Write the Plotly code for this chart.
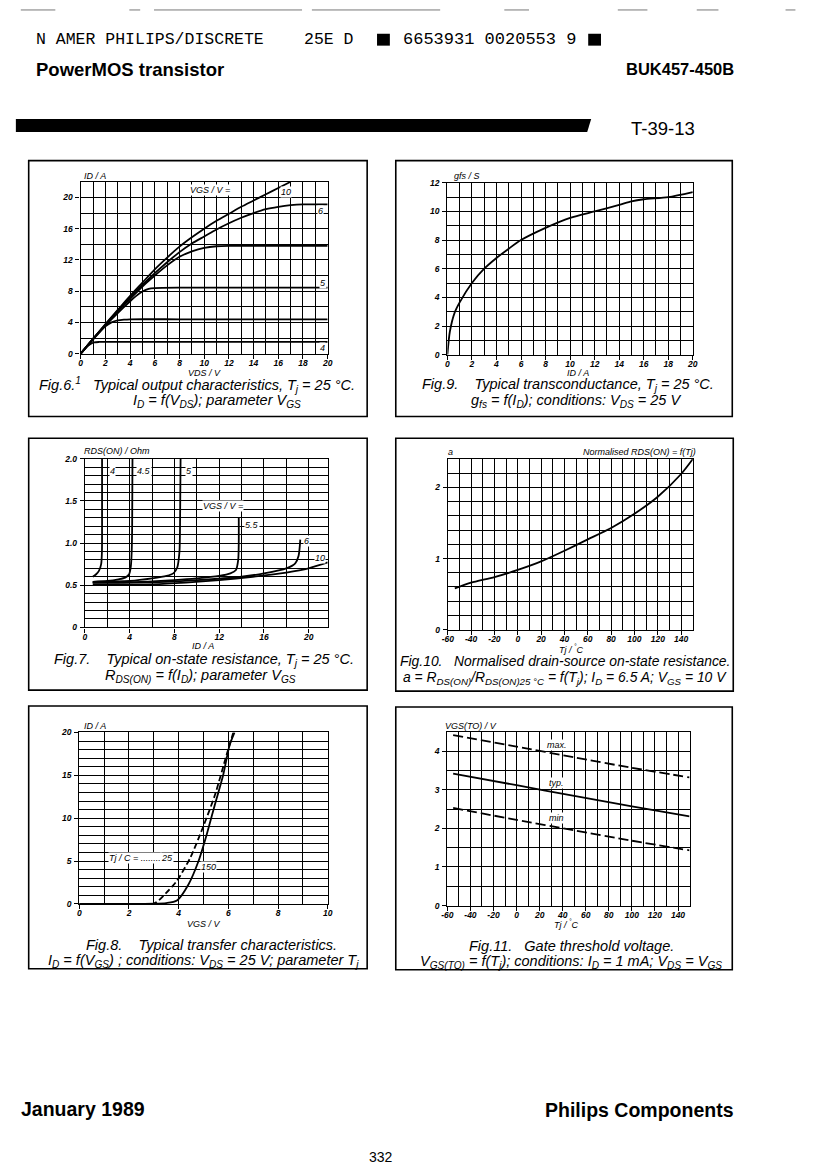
import plotly.graph_objects as go

W, H = 832, 1169
FONT = "Liberation Sans"

# ---------------- data ----------------
# Fig.6 output characteristics: ID (A) vs VDS (V), one curve per VGS
F6_VGS10_VDS = [0, 1, 2, 3, 4, 5, 6, 7, 8, 9, 10, 11, 12, 13, 14, 15, 16, 17]
F6_VGS10_ID = [0, 1.9, 3.8, 5.6, 7.4, 9.1, 10.8, 12.3, 13.7, 14.9, 16.0, 17.0, 17.9, 18.8, 19.6, 20.4, 21.2, 22.0]
F6_VGS6_VDS = [0, 1, 2, 3, 4, 5, 6, 7, 8, 9, 10, 11, 12, 13, 14, 15, 16, 17, 18, 20]
F6_VGS6_ID = [0, 1.9, 3.7, 5.5, 7.2, 8.8, 10.3, 11.7, 13.0, 14.1, 15.0, 15.9, 16.7, 17.4, 18.0, 18.5, 18.8, 19.0, 19.1, 19.1]
F6_VGS55_VDS = [0, 1, 2, 3, 4, 5, 6, 7, 8, 9, 10, 11, 12, 16, 20]
F6_VGS55_ID = [0, 1.9, 3.7, 5.4, 7.0, 8.6, 10.0, 11.3, 12.4, 13.1, 13.55, 13.75, 13.8, 13.8, 13.8]
F6_VGS5_VDS = [0, 1, 2, 3, 4, 4.5, 5, 5.5, 6, 8, 12, 16, 20]
F6_VGS5_ID = [0, 1.9, 3.6, 5.2, 6.7, 7.4, 7.95, 8.3, 8.4, 8.45, 8.45, 8.45, 8.45]
F6_VGS45_VDS = [0, 1, 1.5, 2, 2.5, 3, 3.5, 4, 8, 12, 16, 20]
F6_VGS45_ID = [0, 1.8, 2.7, 3.5, 4.0, 4.25, 4.35, 4.4, 4.4, 4.4, 4.4, 4.4]
F6_VGS4_VDS = [0, 0.5, 0.8, 1.1, 1.5, 2, 6, 12, 20]
F6_VGS4_ID = [0, 0.9, 1.25, 1.45, 1.5, 1.5, 1.5, 1.5, 1.5]

# Fig.9 transconductance: gfs (S) vs ID (A)
F9_ID = [0, 0.2, 0.6, 1, 2, 3, 4, 5, 6, 8, 10, 12, 14, 15, 16, 18, 20]
F9_GFS = [0, 1.6, 2.95, 3.65, 5.0, 6.0, 6.75, 7.4, 8.0, 8.85, 9.55, 10.0, 10.45, 10.7, 10.85, 11.0, 11.35]

# Fig.7 on-state resistance: RDS(ON) (Ohm) vs ID (A), one curve per VGS
F7_VGS4_ID = [0.7, 1.0, 1.25, 1.45, 1.52, 1.53, 1.53]
F7_VGS4_R = [0.60, 0.63, 0.67, 0.75, 0.90, 1.20, 2.0]
F7_VGS45_ID = [0.7, 2, 3, 3.6, 3.95, 4.1, 4.18, 4.22, 4.25]
F7_VGS45_R = [0.54, 0.55, 0.57, 0.59, 0.63, 0.72, 0.90, 1.20, 2.0]
F7_VGS5_ID = [0.7, 4, 6, 7.3, 7.9, 8.25, 8.45, 8.5, 8.55]
F7_VGS5_R = [0.54, 0.55, 0.58, 0.61, 0.64, 0.71, 0.90, 1.20, 2.0]
F7_VGS55_ID = [0.7, 5, 8, 10, 12, 13, 13.5, 13.7, 13.75, 13.75]
F7_VGS55_R = [0.53, 0.54, 0.56, 0.58, 0.61, 0.64, 0.68, 0.80, 1.0, 1.3]
F7_VGS6_ID = [0.7, 5, 10, 14, 16, 18, 18.8, 19.1, 19.25]
F7_VGS6_R = [0.53, 0.53, 0.56, 0.60, 0.64, 0.70, 0.76, 0.85, 1.04]
F7_VGS10_ID = [0.7, 3, 6, 9, 12, 15, 18, 20, 21.7]
F7_VGS10_R = [0.51, 0.505, 0.51, 0.53, 0.56, 0.60, 0.65, 0.70, 0.77]

# Fig.10 normalised RDS(ON) vs Tj (degC)
F10_TJ = [-54, -40, -20, 0, 20, 40, 60, 80, 100, 120, 140, 150]
F10_A = [0.58, 0.66, 0.74, 0.84, 0.96, 1.11, 1.27, 1.43, 1.63, 1.87, 2.19, 2.40]

# Fig.8 transfer characteristics: ID (A) vs VGS (V), one curve per Tj
F8_TJ25_VGS = [0, 3.0, 3.5, 3.93, 4.47, 5.0, 5.46, 5.92, 6.2]
F8_TJ25_ID = [0, 0.05, 1.3, 2.7, 5.4, 9.1, 12.7, 17.3, 20.0]
F8_TJ150_VGS = [0, 3.0, 3.5, 3.93, 4.4, 4.8, 5.13, 5.46, 5.79, 6.05, 6.25]
F8_TJ150_ID = [0, 0.02, 0.1, 0.4, 2.3, 5.0, 8.1, 11.6, 15.0, 18.5, 20.0]

# Fig.11 gate threshold voltage vs Tj (degC)
F11_TJ = [-55, 0, 50, 100, 150]
F11_MAX = [4.42, 4.12, 3.84, 3.57, 3.32]
F11_TYP = [3.42, 3.12, 2.84, 2.57, 2.31]
F11_MIN = [2.53, 2.22, 1.95, 1.68, 1.43]

# temperature axis labels are printed with a plain hyphen
TJ_TICKS = [-60, -40, -20, 0, 20, 40, 60, 80, 100, 120, 140]
TJ_TEXT = ["-60", "-40", "-20", "0", "20", "40", "60", "80", "100", "120", "140"]


def xp(x):
    return x / W


def yp(y):
    return 1 - y / H


fig = go.Figure()
annotations = []
shapes = []

tick_font = dict(family=FONT, size=8.5, color="black", style="italic", weight="bold")


def axis(n, xdom, ydom, xr, yr, xd, xminor, yd, yminor,
         xvals=None, xtext=None, yvals=None, ytext=None):
    sx = "" if n == 1 else str(n)
    common = dict(
        showline=True, mirror=True, linecolor="black", linewidth=1.4,
        showgrid=True, gridcolor="black", gridwidth=1.1,
        ticks="outside", ticklen=4, tickcolor="black", tickwidth=1,
        tickfont=tick_font, zeroline=False, fixedrange=True,
    )
    xa = dict(
        domain=[xp(xdom[0]), xp(xdom[1])], range=xr, anchor="y" + sx,
        ticklabelstandoff=-3,
        minor=dict(tick0=0, dtick=xminor, showgrid=True, gridcolor="black", gridwidth=1.1),
        **common,
    )
    if xvals is not None:
        xa.update(tickmode="array", tickvals=xvals, ticktext=xtext)
    else:
        xa.update(tick0=0, dtick=xd)
    fig.layout["xaxis" + sx] = xa
    ya = dict(
        domain=[yp(ydom[1]), yp(ydom[0])], range=yr, anchor="x" + sx,
        ticklabelstandoff=1,
        minor=dict(tick0=0, dtick=yminor, showgrid=True, gridcolor="black", gridwidth=1.1),
        **common,
    )
    if yvals is not None:
        ya.update(tickmode="array", tickvals=yvals, ticktext=ytext)
    else:
        ya.update(tick0=0, dtick=yd)
    fig.layout["yaxis" + sx] = ya


def curve(n, x, y, dash="solid", width=1.8):
    sx = "" if n == 1 else str(n)
    fig.add_trace(go.Scatter(
        x=x, y=y, mode="lines", xaxis="x" + sx, yaxis="y" + sx,
        line=dict(color="black", width=width, dash=dash, shape="spline", smoothing=0.7),
        hoverinfo="skip", showlegend=False,
    ))


def label(n, text, x, y, size=9, xanchor="center", bg="white"):
    sx = "" if n == 1 else str(n)
    annotations.append(dict(
        text=text, x=x, y=y, xref="x" + sx, yref="y" + sx, showarrow=False,
        xanchor=xanchor, yanchor="middle", bgcolor=bg, borderpad=0,
        font=dict(family=FONT, size=size, color="black", style="italic"),
    ))


def page_text(text, x, y, size, xanchor="center", italic=False, bold=False,
              family=FONT, yanchor="middle"):
    # annotation boxes carry a little padding; nudge anchored texts to the printed edge
    if xanchor == "left":
        x -= 4
    elif xanchor == "right":
        x += 4
    annotations.append(dict(
        text=text, x=xp(x), y=yp(y), xref="paper", yref="paper", showarrow=False,
        xanchor=xanchor, yanchor=yanchor, borderpad=0,
        font=dict(family=family, size=size, color="black",
                  style="italic" if italic else "normal",
                  weight="bold" if bold else "normal"),
    ))


def box(x0, y0, x1, y1, width=1.6):
    shapes.append(dict(type="rect", xref="paper", yref="paper",
                       x0=xp(x0), x1=xp(x1), y0=yp(y1), y1=yp(y0),
                       line=dict(color="black", width=width)))


# ---------------- Fig.6 ----------------
axis(1, (75.7, 326), (178.3, 351.7), [0, 20], [0, 22], 2, 1, 4, 2)
for vx, vy in [(F6_VGS10_VDS, F6_VGS10_ID), (F6_VGS6_VDS, F6_VGS6_ID),
               (F6_VGS55_VDS, F6_VGS55_ID), (F6_VGS5_VDS, F6_VGS5_ID),
               (F6_VGS45_VDS, F6_VGS45_ID), (F6_VGS4_VDS, F6_VGS4_ID)]:
    curve(1, vx, vy)
label(1, "VGS / V =", 10.5, 20.9)
label(1, "10", 16.6, 20.7)
label(1, "6", 19.4, 18.2)
label(1, "5", 19.6, 9.1)
label(1, "4", 19.6, 0.7)

# ---------------- Fig.9 ----------------
axis(2, (447.3, 696), (179.3, 352.7), [0, 20], [0, 12], 2, 1, 2, 1)
curve(2, F9_ID, F9_GFS)

# ---------------- Fig.7 ----------------
axis(3, (80, 326), (457.7, 627.7), [0, 21.7], [0, 2.0], 4, 2, None, 0.1,
     yvals=[0, 0.5, 1.0, 1.5, 2.0], ytext=["0", "0.5", "1.0", "1.5", "2.0"])
for vx, vy in [(F7_VGS4_ID, F7_VGS4_R), (F7_VGS45_ID, F7_VGS45_R),
               (F7_VGS5_ID, F7_VGS5_R), (F7_VGS55_ID, F7_VGS55_R),
               (F7_VGS6_ID, F7_VGS6_R), (F7_VGS10_ID, F7_VGS10_R)]:
    curve(3, vx, vy)
label(3, "4", 2.5, 1.86)
label(3, "4.5", 5.3, 1.86)
label(3, "5", 9.3, 1.86)
label(3, "VGS / V =", 12.3, 1.44)
label(3, "5.5", 14.9, 1.22)
label(3, "6", 19.8, 1.03)
label(3, "10", 21.0, 0.82)

# ---------------- Fig.10 ----------------
axis(4, (447.7, 696), (458.0, 630), [-60, 150], [0, 2.4], None, 10, 1, 0.2,
     xvals=TJ_TICKS, xtext=TJ_TEXT)
curve(4, F10_TJ, F10_A)

# ---------------- Fig.8 ----------------
axis(5, (74.3, 326), (733.7, 906.7), [0, 10], [0, 20], 2, 1, 5, 1)
curve(5, F8_TJ25_VGS, F8_TJ25_ID, dash="6px,3px")
curve(5, F8_TJ150_VGS, F8_TJ150_ID)
label(5, "Tj / C = ........", 1.15, 5.4, xanchor="left")
label(5, "25", 3.55, 5.4)
label(5, "150", 5.2, 4.25)

# ---------------- Fig.11 ----------------
axis(6, (447.3, 692.7), (733.2, 908.3), [-60, 150], [0, 4.5], None, 10, 1, 0.5,
     xvals=TJ_TICKS, xtext=TJ_TEXT)
curve(6, F11_TJ, F11_MAX, dash="10px,4px")
curve(6, F11_TJ, F11_TYP)
curve(6, F11_TJ, F11_MIN, dash="10px,4px")
label(6, "max.", 35, 4.15)
label(6, "typ.", 35, 3.17)
label(6, "min", 35, 2.27)

# ---------------- axis titles (page placed, as printed) ----------------
ax_t = 9
page_text("ID / A", 82, 172, ax_t, xanchor="left", italic=True)
page_text("VDS / V", 201, 371.5, ax_t, italic=True)
page_text("gfs / S", 457, 172, ax_t, xanchor="left", italic=True)
page_text("ID / A", 580, 371.5, ax_t, italic=True)
page_text("RDS(ON) / Ohm", 82, 450, ax_t, xanchor="left", italic=True)
page_text("ID / A", 200, 647, ax_t, italic=True)
page_text("a", 451, 451, ax_t, xanchor="left", italic=True)
page_text("Normalised RDS(ON) = f(Tj)", 696, 451, ax_t, xanchor="right", italic=True)
page_text("Tj / <sup>°</sup>C", 573, 650, ax_t, italic=True)
page_text("ID / A", 82, 727.5, ax_t, xanchor="left", italic=True)
page_text("VGS / V", 201, 927, ax_t, italic=True)
page_text("VGS(TO) / V", 448, 727, ax_t, xanchor="left", italic=True)
page_text("Tj / <sup>°</sup>C", 568, 927, ax_t, italic=True)

# ---------------- captions ----------------
cap = 14.5
sp = "\u00a0"
page_text(f"Fig.6.<sup>1</sup>{sp*3}Typical output characteristics, T<sub>j</sub> = 25 °C.", 194, 383, cap, italic=True)
page_text("I<sub>D</sub> = f(V<sub>DS</sub>); parameter V<sub>GS</sub>", 214, 399, cap, italic=True)
page_text(f"Fig.9.{sp*4}Typical transconductance, T<sub>j</sub> = 25 °C.", 570, 383, cap, italic=True)
page_text("g<sub>fs</sub> = f(I<sub>D</sub>); conditions: V<sub>DS</sub> = 25 V", 578, 399, cap, italic=True)
page_text(f"Fig.7.{sp*4}Typical on-state resistance, T<sub>j</sub> = 25 °C.", 201, 661, cap, italic=True)
page_text("R<sub>DS(ON)</sub> = f(I<sub>D</sub>); parameter V<sub>GS</sub>", 197, 677, cap, italic=True)
page_text(f"Fig.10.{sp*3}Normalised drain-source on-state resistance.", 566, 662, 13.9, italic=True)
page_text("a = R<sub>DS(ON)</sub>/R<sub>DS(ON)25 °C</sub> = f(T<sub>j</sub>); I<sub>D</sub> = 6.5 A; V<sub>GS</sub> = 10 V",
          566, 679, 13.9, italic=True)
page_text(f"Fig.8.{sp*4}Typical transfer characteristics.", 208, 948, cap, italic=True)
page_text("I<sub>D</sub> = f(V<sub>GS</sub>) ; conditions: V<sub>DS</sub> = 25 V; parameter T<sub>j</sub>",
          200, 964, cap, italic=True)
page_text(f"Fig.11.{sp*3}Gate threshold voltage.", 573, 949, cap, italic=True)
page_text("V<sub>GS(TO)</sub> = f(T<sub>j</sub>); conditions: I<sub>D</sub> = 1 mA; V<sub>DS</sub> = V<sub>GS</sub>",
          573, 965, cap, italic=True)

# ---------------- frames around each figure ----------------
box(23, 157, 366, 415)
box(395, 157, 736, 415)
box(23, 437, 366, 691)
box(395, 437, 737, 692)
box(23, 707, 366, 972)
box(395, 708, 736, 973)

# ---------------- page header / footer ----------------
mono = "Liberation Mono"
page_text("N AMER PHILIPS/DISCRETE", 33, 35, 16.5, xanchor="left", family=mono)
page_text("25E D", 305, 35, 16.5, xanchor="left", family=mono)
page_text("6653931 0020553 9", 405, 35, 17, xanchor="left", family=mono)
for x0, x1 in [(376, 389), (590, 603)]:
    shapes.append(dict(type="rect", xref="paper", yref="paper", x0=xp(x0), x1=xp(x1),
                       y0=yp(41), y1=yp(29), fillcolor="black", line=dict(width=0)))
page_text("PowerMOS transistor", 33, 65, 18.5, xanchor="left", bold=True)
page_text("BUK457-450B", 735, 65, 16.5, xanchor="right", bold=True)
shapes.append(dict(type="path", xref="paper", yref="paper",
                   path=f"M {xp(10)},{yp(115)} L {xp(593)},{yp(115)} L {xp(589)},{yp(128)} L {xp(10)},{yp(128)} Z",
                   fillcolor="black", line=dict(width=0)))
page_text("T-39-13", 636, 125, 18.5, xanchor="left")
page_text("January 1989", 18, 1114, 19.5, xanchor="left", bold=True)
page_text("Philips Components", 735, 1115, 19.5, xanchor="right", bold=True)
page_text("332", 380, 1162, 14)

# faint scan artefacts along the top edge
for x0, x1 in [(15, 50), (125, 136), (150, 300), (310, 440), (505, 530), (620, 650), (700, 722), (790, 800)]:
    shapes.append(dict(type="line", xref="paper", yref="paper", x0=xp(x0), x1=xp(x1),
                       y0=yp(5), y1=yp(5), line=dict(color="#777777", width=1)))

fig.update_layout(
    width=W, height=H, margin=dict(l=0, r=0, t=0, b=0),
    paper_bgcolor="white", plot_bgcolor="white",
    showlegend=False, annotations=annotations, shapes=shapes,
    font=dict(family=FONT, color="black"),
)

# the page is photographed edge to edge, so drop the browser's default body margin
fig.write_html(
    "out.html",
    config={"displayModeBar": False},
    post_script="document.body.style.margin='0';document.body.style.overflow='hidden';",
)
